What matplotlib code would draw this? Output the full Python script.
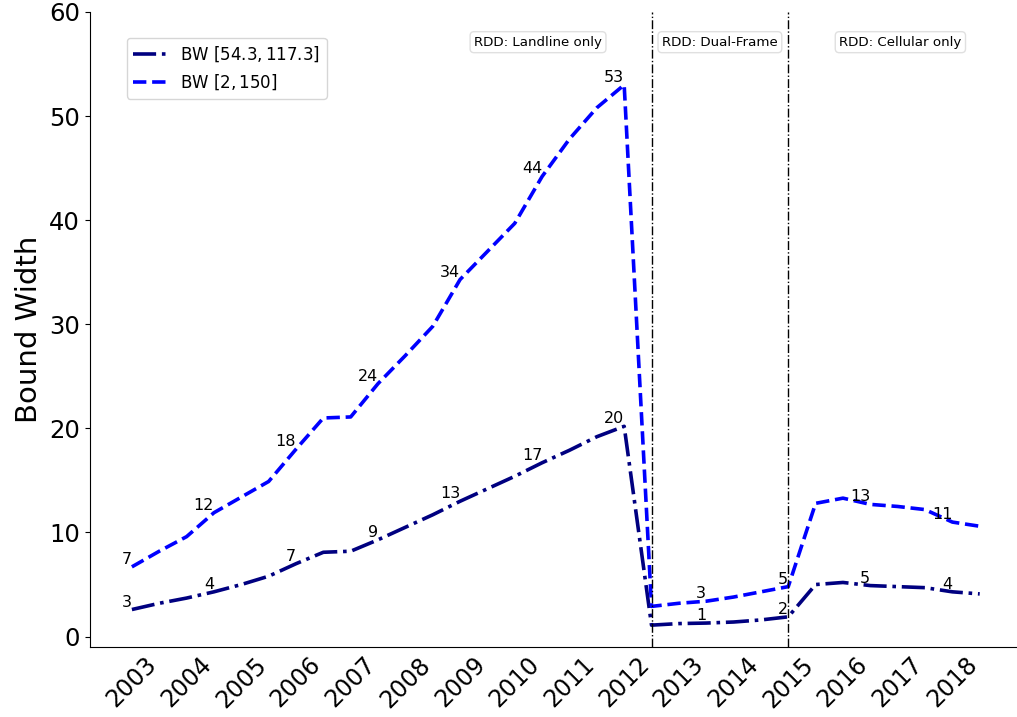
"""
Bound width of the two BW ranges over time, semiannual points 2003-2018.

Run: python plot.py
"""

import matplotlib
matplotlib.use('Agg')
import matplotlib.pyplot as plt

# Data, one value per half year
years = list(range(2003, 2019))

bw_narrow = [2.6, 3.2, 3.7, 4.3, 5.0, 5.8, 7.0, 8.1, 8.2, 9.3,
             10.5, 11.7, 13.0, 14.2, 15.4, 16.7, 17.9, 19.2, 20.2, 1.1,
             1.25, 1.3, 1.4, 1.6, 1.9, 5.0, 5.2, 4.9, 4.8, 4.7,
             4.3, 4.1]

bw_wide = [6.7, 8.2, 9.6, 11.9, 13.4, 14.9, 18.0, 21.0, 21.1, 24.3,
           27.0, 29.8, 34.3, 37.0, 39.7, 44.2, 47.8, 50.8, 53.0, 2.9,
           3.2, 3.4, 3.8, 4.3, 4.8, 12.8, 13.3, 12.7, 12.5, 12.2,
           11.0, 10.6]

series_labels = [r'BW $[54.3, 117.3]$', r'BW $[2, 150]$']

# Survey design periods: (label, x centre in point index)
design_breaks = [19, 24]
design_labels = [('RDD: Landline only', 14.85),
                 ('RDD: Dual-Frame', 21.5),
                 ('RDD: Cellular only', 28.1)]


def annotate_every(ax, values, step=3):
    """Write the rounded value above-left of every `step`-th point."""
    for i in range(0, len(values), step):
        ax.text(i, values[i], f'{round(values[i])}', ha='right', va='bottom',
                fontsize=11.5)


def main():
    fig = plt.figure(figsize=(10.17, 7.17), dpi=100)
    ax = fig.add_axes([89.5 / 1017, 70 / 717, 932.6 / 1017, 635 / 717])

    x = list(range(len(bw_narrow)))
    ax.plot(x, bw_narrow, color='navy', linestyle='-.', linewidth=2.6,
            label=series_labels[0])
    ax.plot(x, bw_wide, color='blue', linestyle='--', linewidth=2.6,
            label=series_labels[1])

    annotate_every(ax, bw_narrow)
    annotate_every(ax, bw_wide)

    # Design changes
    for xb in design_breaks:
        ax.axvline(xb, color='black', linestyle='-.', linewidth=1)

    for text, xc in design_labels:
        ax.text(xc, 57.1, text, ha='center', va='center', fontsize=9.6,
                bbox=dict(boxstyle='round,pad=0.3', facecolor='white',
                          edgecolor='0.88'))

    ax.set_ylim(-1, 60)
    ax.set_yticks(range(0, 61, 10))
    ax.set_xticks(range(0, len(x), 2))
    ax.set_xticklabels(years, rotation=45, fontsize=17)
    ax.tick_params(axis='x', length=0, pad=4)
    ax.tick_params(axis='y', labelsize=17.5)
    ax.set_ylabel('Bound Width', fontsize=21)

    ax.spines['top'].set_visible(False)
    ax.spines['right'].set_visible(False)

    ax.legend(loc='upper left', bbox_to_anchor=(0.04, 0.959),
              borderaxespad=0, fontsize=12)

    fig.savefig('out.png', dpi=100)


if __name__ == "__main__":
    main()
